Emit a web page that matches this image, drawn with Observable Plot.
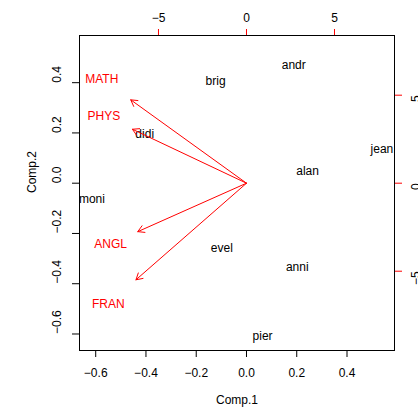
<!DOCTYPE html>
<html>
<head>
<meta charset="utf-8">
<script src="https://cdn.jsdelivr.net/npm/d3@7"></script>
<script src="https://cdn.jsdelivr.net/npm/@observablehq/plot@0.6"></script>
<style>
  html, body { margin: 0; padding: 0; background: #fff; }
  #chart svg { display: block; }
</style>
</head>
<body>
<div id="chart"></div>
<script>
// Observation scores (Comp.1, Comp.2)
const names = ["andr", "brig", "didi", "jean", "alan", "moni", "evel", "anni", "pier"];
const comp1 = [0.188, -0.123, -0.405, 0.539, 0.243, -0.615, -0.098, 0.202, 0.064];
const comp2 = [0.468, 0.405, 0.194, 0.137, 0.047, -0.062, -0.257, -0.334, -0.610];

// Variable loadings (secondary scale, top/right axes)
const vars = ["MATH", "PHYS", "ANGL", "FRAN"];
const load1 = [-8.22, -8.10, -7.72, -7.85];
const load2 = [5.92, 3.83, -3.44, -6.86];

// Tick values
const xTicks = [-0.6, -0.4, -0.2, 0.0, 0.2, 0.4];
const yTicks = [-0.6, -0.4, -0.2, 0.0, 0.2, 0.4];
const secTicks = [-5, 0, 5];

// ratio between secondary (loadings) units and primary units
const ratio = 0.07004;

const obs = names.map((n, i) => ({name: n, x: comp1[i], y: comp2[i]}));
const vdat = vars.map((v, i) => ({name: v, x: load1[i] * ratio, y: load2[i] * ratio}));

const fmt1 = d => d3.format(".1f")(d).replace("-", "\u2212");
const fmt0 = d => String(d).replace("-", "\u2212");
const FONT = "Liberation Sans, Arial, Helvetica, sans-serif";
const RED = "#FF0000";

const chart = Plot.plot({
  width: 418,
  height: 413,
  marginLeft: 79,
  marginRight: 24,
  marginTop: 35,
  marginBottom: 63,
  style: {fontFamily: FONT, fontSize: "12px", background: "#fff", color: "#000"},
  x: {domain: [-0.6645, 0.589]},
  y: {domain: [-0.6657, 0.5877]},
  marks: [
    // bottom axis
    Plot.axisX({anchor: "bottom", ticks: xTicks, tickFormat: fmt1, tickSize: 7, tickPadding: 11, fontSize: 12, label: null}),
    // left axis ticks
    Plot.axisY({anchor: "left", ticks: yTicks, tickFormat: () => "", tickSize: 7, label: null}),
    Plot.text(yTicks, {y: d => d, frameAnchor: "left", dx: -22, rotate: -90, text: fmt1, fontSize: 12, lineAnchor: "middle"}),
    // top axis (secondary)
    Plot.axisX({anchor: "top", ticks: secTicks.map(v => v * ratio), tickFormat: d => fmt0(Math.round(d / ratio)), stroke: RED, fill: "#000", tickSize: 7, tickPadding: 7, fontSize: 12, label: null}),
    // right axis (secondary)
    Plot.axisY({anchor: "right", ticks: secTicks.map(v => v * ratio), tickFormat: () => "", stroke: RED, tickSize: 7, label: null}),
    Plot.text(secTicks, {y: d => d * ratio, frameAnchor: "right", dx: 22, rotate: -90, text: fmt0, fontSize: 12, lineAnchor: "middle"}),
    // observation labels
    Plot.text(obs, {x: "x", y: "y", text: "name", fill: "#000", fontSize: 12, clip: true}),
    // variable arrows (to 0.8 of loading) and labels
    Plot.arrow(vdat, {x1: 0, y1: 0, x2: d => d.x * 0.8, y2: d => d.y * 0.8, stroke: RED, strokeWidth: 1, headLength: 10.8, headAngle: 60}),
    Plot.text(vdat, {x: "x", y: "y", text: "name", fill: RED, fontSize: 12, clip: true}),
    // box
    Plot.frame({stroke: "#000", strokeWidth: 1}),
    // axis titles
    Plot.text(["Comp.1"], {frameAnchor: "bottom", dy: 53, text: d => d, fontSize: 12}),
    Plot.text(["Comp.2"], {frameAnchor: "left", dx: -47, rotate: -90, text: d => d, fontSize: 12})
  ]
});

document.getElementById("chart").appendChild(chart);
</script>
</body>
</html>
